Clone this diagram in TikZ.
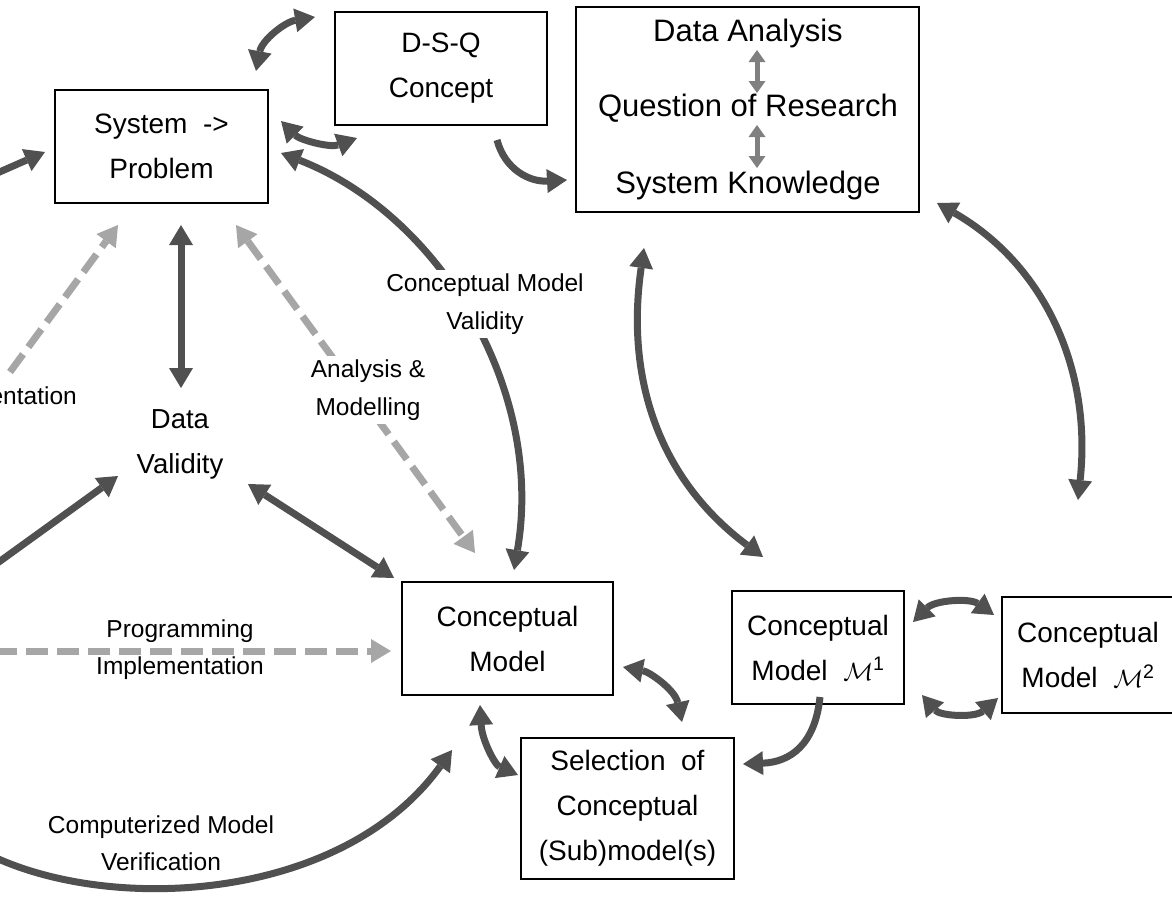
\documentclass[tikz,border=0pt]{standalone}
\usepackage{fontspec}
\setmainfont{Liberation Sans}
\usetikzlibrary{arrows.meta}
\definecolor{arrowdark}{RGB}{80,80,80}
\definecolor{arrowlight}{RGB}{166,166,166}
\definecolor{arrowmid}{RGB}{128,128,128}

\begin{document}
\begin{tikzpicture}[x=1pt,y=-1pt,
  box/.style={draw=black, line width=1.5pt, fill=white, align=center, inner sep=0pt,
    font=\fontsize{28}{45}\selectfont},
  stack/.style={inner sep=0pt, font=\fontsize{31}{37}\selectfont},
  lbl/.style={align=center, inner sep=4pt, font=\fontsize{24.5}{37.5}\selectfont},
  heavy/.style={draw=arrowdark, line width=7pt,
    >={Triangle[length=20pt,width=24pt,line width=0pt 0]}},
  dashy/.style={draw=arrowlight, line width=7pt, dash pattern=on 22pt off 9pt,
    >={Triangle[length=20pt,width=24pt,line width=0pt 0]}},
  slim/.style={draw=arrowmid, line width=5pt,
    >={Triangle[length=12pt,width=17pt,line width=0pt 0]}},
]
\useasboundingbox (0,0) rectangle (1172,900);
\clip (0,0) rectangle (1172,900);
\fill[white] (0,0) rectangle (1172,900);

% ---- boxes ----
\node[box, minimum width=213pt, minimum height=113pt] (sys) at (161.5,146.5) {System\ \ ->\\Problem};
\node[box, minimum width=212pt, minimum height=113pt] (dsq) at (441,68.5) {D-S-Q\\Concept};
\node[box, minimum width=343pt, minimum height=205pt] (da) at (747.5,109.5) {};
\node[box, minimum width=211pt, minimum height=113pt] (cm) at (507.5,638.5) {Conceptual\\Model};
\node[box, minimum width=213pt, minimum height=141pt] (sel) at (627.5,808.5) {Selection\ \ of\\Conceptual\\(Sub)model(s)};
\node[box, minimum width=172pt, minimum height=113pt] (mone) at (818,647.5) {Conceptual\\Model\ \ $\mathcal{M}$\textsuperscript{1}};
\node[box, minimum width=172pt, minimum height=116pt] (mtwo) at (1088,655) {Conceptual\\Model\ \ $\mathcal{M}$\textsuperscript{2}};

% ---- contents of the research box ----
\node[stack] (dana) at (748,33) {Data Analysis};
\node[stack] (qres) at (748,108) {Question of Research};
\node[stack] (sknow) at (748,185) {System Knowledge};
\coordinate (dqA) at (757,50);  \coordinate (dqB) at (757,93);
\coordinate (qsA) at (757,125); \coordinate (qsB) at (757,168);
\draw[slim,<->] (dqA) -- (dqB);
\draw[slim,<->] (qsA) -- (qsB);

% ---- free text ----
\node[align=center, inner sep=0pt, font=\fontsize{27.5}{45}\selectfont] (dv) at (180,444) {Data\\Validity};
\node[inner sep=0pt, anchor=east, font=\fontsize{24.5}{37.5}\selectfont] (impl) at (77,398) {Implementation};

% ---- connector end points ----
\coordinate (tlA) at (256,71);   \coordinate (tlB) at (315,17);
\coordinate (inTail) at (-5,174); \coordinate (inTip) at (45,152);
\coordinate (sdA) at (281,121);  \coordinate (sdB) at (357,138);
\coordinate (cvA) at (281,153);  \coordinate (cvB) at (514,570);
\coordinate (amA) at (236,225);  \coordinate (amB) at (475,553);
\coordinate (vdA) at (181,225);  \coordinate (vdB) at (181,388);
\coordinate (ldTail) at (10,372); \coordinate (ldTip) at (118,225);
\coordinate (lvTail) at (-15,572); \coordinate (lvTip) at (118,476);
\coordinate (dcA) at (248,484);  \coordinate (dcB) at (394,578);
\coordinate (piTail) at (-5,651); \coordinate (piTip) at (391,651);
\coordinate (cvfTail) at (-20,850); \coordinate (cvfTip) at (452,750);
\coordinate (csA) at (480,705);  \coordinate (csB) at (518,775);
\coordinate (crA) at (623,667);  \coordinate (crB) at (682,722);
\coordinate (msTail) at (820,697); \coordinate (msTip) at (743,764);
\coordinate (mtA) at (913,622);  \coordinate (mtB) at (994,615);
\coordinate (mbA) at (922,695);  \coordinate (mbB) at (998,698);
\coordinate (laA) at (644,248);  \coordinate (laB) at (763,557);
\coordinate (raA) at (937,203);  \coordinate (raB) at (1078,500);
\coordinate (dqTail) at (497,140); \coordinate (dqTip) at (567,180);

% ---- dark connectors ----
\draw[heavy,<->] (tlA) .. controls (262,40) and (285,22) .. (tlB);
\draw[heavy,->] (inTail) -- (inTip);
\draw[heavy,<->] (sdA) .. controls (300,140) and (330,148) .. (sdB);
\draw[heavy,<->] (cvA) .. controls (440,215) and (545,390) .. (cvB);
\draw[heavy,<->] (vdA) -- (vdB);
\draw[heavy,->] (lvTail) -- (lvTip);
\draw[heavy,<->] (dcA) -- (dcB);
\draw[heavy,->] (cvfTail) .. controls (100,915) and (340,905) .. (cvfTip);
\draw[heavy,<->] (csA) .. controls (482,740) and (495,765) .. (csB);
\draw[heavy,<->] (crA) .. controls (650,672) and (675,690) .. (crB);
\draw[heavy,->] (msTail) .. controls (815,745) and (790,762) .. (msTip);
\draw[heavy,<->] (mtA) .. controls (935,600) and (970,598) .. (mtB);
\draw[heavy,<->] (mbA) .. controls (940,716) and (975,718) .. (mbB);
\draw[heavy,<->] (laA) .. controls (625,380) and (660,480) .. (laB);
\draw[heavy,<->] (raA) .. controls (1045,265) and (1092,370) .. (raB);
\draw[heavy,->] (dqTail) .. controls (505,170) and (530,182) .. (dqTip);

% ---- dashed connectors ----
\draw[dashy,<->] (amA) -- (amB);
\draw[dashy,->] (ldTail) -- (ldTip);
\draw[dashy,->] (piTail) -- (piTip);

% ---- connector labels ----
\node[lbl, fill=white] (cmvl) at (485,304) {Conceptual Model\\Validity};
\node[lbl, fill=white] (aml) at (368,390) {Analysis \&\\Modelling};
\node[lbl, inner sep=0pt] (pil) at (180,649.5) {Programming\\Implementation};
\node[lbl, inner sep=0pt] (cvl) at (161,843) {Computerized Model\\Verification};
\end{tikzpicture}
\end{document}
